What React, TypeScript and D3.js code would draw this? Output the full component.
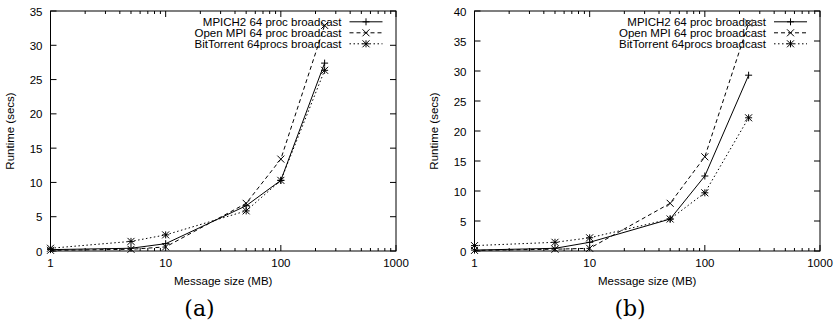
import React from "react";
import * as d3 from "d3";

const sizes = [1, 5, 10, 50, 100, 240];
const seriesNames = ["MPICH2 64 proc broadcast", "Open MPI 64 proc broadcast", "BitTorrent 64procs broadcast"];

const mpichA = [0.2, 0.4, 1.07, 6.6, 10.3, 27.4];
const openmpiA = [0.1, 0.25, 0.6, 6.95, 13.4, 32.9];
const bitA = [0.4, 1.4, 2.35, 5.85, 10.3, 26.35];

const mpichB = [0.15, 0.45, 1.45, 5.33, 12.5, 29.3];
const openmpiB = [0.1, 0.3, 0.45, 7.95, 15.7, 38.0];
const bitB = [0.9, 1.45, 2.2, 5.33, 9.7, 22.2];

const yTicksA = [0, 5, 10, 15, 20, 25, 30, 35];
const yTicksB = [0, 5, 10, 15, 20, 25, 30, 35, 40];
const xTickLabels = [1, 10, 100, 1000];

const FONT = "Liberation Sans, Arial, Helvetica, sans-serif";
const dashes = ["none", "4,3", "1.5,2.5"];

function Marker({ kind, x, y }: { kind: number; x: number; y: number }) {
  const s = 3.5;
  const plus = <path d={`M${x - s},${y}H${x + s}M${x},${y - s}V${y + s}`} />;
  const cross = <path d={`M${x - s},${y - s}L${x + s},${y + s}M${x - s},${y + s}L${x + s},${y - s}`} />;
  if (kind === 0) return <g stroke="#000" strokeWidth={1}>{plus}</g>;
  if (kind === 1) return <g stroke="#000" strokeWidth={1}>{cross}</g>;
  return (
    <g stroke="#000" strokeWidth={1}>
      {plus}
      {cross}
    </g>
  );
}

function Panel({
  ox, left, right, yMax, yTicks, series, caption, captionX, legendRight,
}: {
  ox: number; left: number; right: number; yMax: number; yTicks: number[];
  series: number[][]; caption: string; captionX: number; legendRight: number;
}) {
  const top = 11, bottom = 251;
  const x = d3.scaleLog().domain([1, 1000]).range([left, right]);
  const y = d3.scaleLinear().domain([0, yMax]).range([bottom, top]);
  const minor: number[] = [];
  for (let dec = 1; dec < 1000; dec *= 10) for (let k = 2; k <= 9; k++) minor.push(dec * k);
  const line = d3.line<number>().x((_, i) => x(sizes[i])).y((v) => y(v));
  const maj = 6, mn = 3;
  return (
    <g transform={`translate(${ox},0)`} style={{ fontFamily: FONT, fontSize: "11.5px" }}>
      <g stroke="#000" strokeWidth={1}>
        {yTicks.map((t) => (
          <g key={"y" + t}>
            <line x1={left} x2={left + maj} y1={y(t)} y2={y(t)} />
            <line x1={right} x2={right - maj} y1={y(t)} y2={y(t)} />
          </g>
        ))}
        {xTickLabels.map((t) => (
          <g key={"x" + t}>
            <line x1={x(t)} x2={x(t)} y1={bottom} y2={bottom - maj} />
            <line x1={x(t)} x2={x(t)} y1={top} y2={top + maj} />
          </g>
        ))}
        {minor.map((t) => (
          <g key={"m" + t}>
            <line x1={x(t)} x2={x(t)} y1={bottom} y2={bottom - mn} />
            <line x1={x(t)} x2={x(t)} y1={top} y2={top + mn} />
          </g>
        ))}
      </g>
      {yTicks.map((t) => (
        <text key={"yl" + t} x={left - 8} y={y(t) + 4.5} textAnchor="end">{t}</text>
      ))}
      {xTickLabels.map((t) => (
        <text key={"xl" + t} x={x(t)} y={267} textAnchor="middle">{t}</text>
      ))}
      <text x={(left + right) / 2} y={285} textAnchor="middle">Message size (MB)</text>
      <text transform={`translate(${left - 37},${(top + bottom) / 2}) rotate(-90)`} textAnchor="middle">Runtime (secs)</text>
      {series.map((vals, si) => (
        <g key={"s" + si}>
          <path d={line(vals) || ""} fill="none" stroke="#000" strokeWidth={1} strokeDasharray={dashes[si]} />
          {vals.map((v, i) => (
            <Marker key={i} kind={si} x={x(sizes[i])} y={y(v)} />
          ))}
        </g>
      ))}
      {seriesNames.map((n, si) => {
        const ly = 21.8 + si * 11;
        return (
          <g key={"l" + si}>
            <text x={legendRight} y={ly + 4} textAnchor="end">{n}</text>
            <line x1={legendRight + 8} x2={legendRight + 41} y1={ly} y2={ly} stroke="#000" strokeWidth={1} strokeDasharray={dashes[si]} />
            <Marker kind={si} x={legendRight + 24.5} y={ly} />
          </g>
        );
      })}
      <rect x={left} y={top} width={right - left} height={bottom - top} fill="none" stroke="#000" strokeWidth={1} />
      <text x={captionX} y={316} textAnchor="middle" style={{ fontFamily: "DejaVu Serif, serif", fontSize: "22px" }}>{caption}</text>
    </g>
  );
}

export default function App() {
  return (
    <svg width={835} height={326} style={{ position: "absolute", left: 0, top: 0, background: "#fff" }}>
      <rect width={835} height={326} fill="#fff" />
      <Panel ox={0} left={50.5} right={396} yMax={35} yTicks={yTicksA} series={[mpichA, openmpiA, bitA]} caption="(a)" captionX={199.5} legendRight={341.5} />
      <Panel ox={415} left={59.5} right={405} yMax={40} yTicks={yTicksB} series={[mpichB, openmpiB, bitB]} caption="(b)" captionX={215} legendRight={351} />
    </svg>
  );
}
